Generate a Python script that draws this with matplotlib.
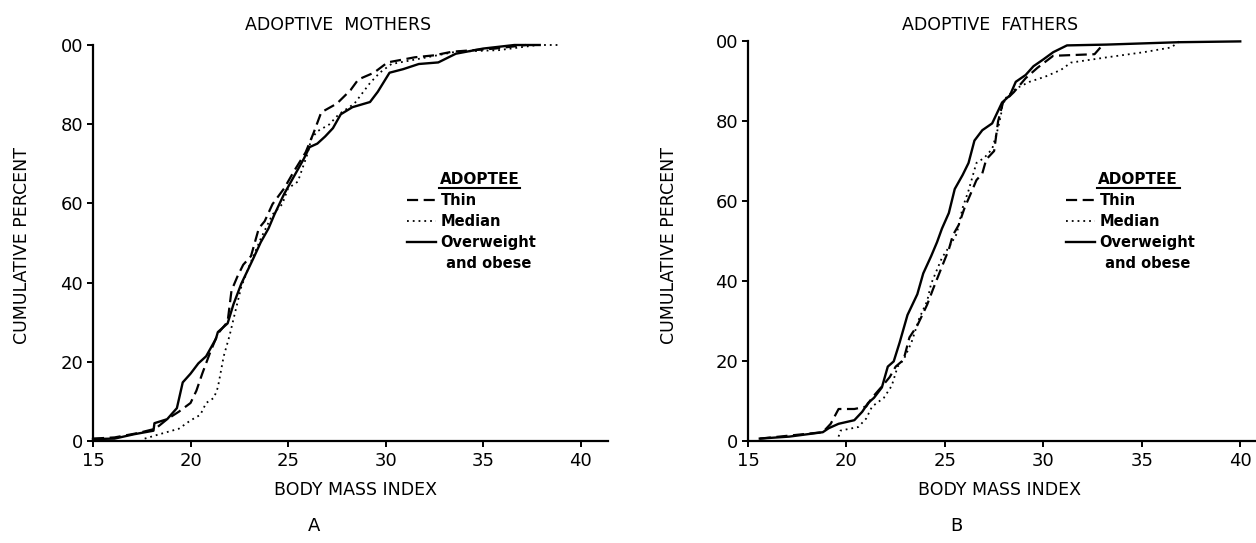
import matplotlib
matplotlib.use("Agg")
import matplotlib.pyplot as plt
from matplotlib.lines import Line2D

# values (BMI, cumulative percent)
mothers_thin_bmi = [15.0, 16.1, 17.3, 18.2, 18.8, 19.4, 20.0, 20.3, 20.6, 21.0, 21.4, 21.9, 22.1,
                    22.4, 22.7, 23.1, 23.5, 23.8, 24.2, 24.8, 25.3, 25.9, 26.3, 26.7, 27.5, 28.2,
                    28.6, 29.4, 30.1, 31.5, 32.5, 33.4, 35.6, 37.2]
mothers_thin_pct = [0.6, 0.9, 2.0, 3.1, 5.5, 7.4, 9.6, 12.7, 17.0, 22.3, 27.1, 30.1, 38.0,
                    41.5, 44.5, 46.7, 53.7, 55.5, 59.8, 63.8, 68.1, 72.9, 77.7, 83.0, 85.2, 88.6,
                    91.3, 93.0, 95.6, 96.9, 97.4, 98.3, 99.1, 100.0]

mothers_median_bmi = [17.65, 18.4, 19.4, 20.0, 20.5, 20.8, 21.2, 21.4, 21.7, 22.0, 22.3, 22.6,
                      23.0, 23.6, 24.2, 24.7, 25.0, 25.5, 25.96, 26.2, 26.5, 27.1, 27.6, 28.4,
                      29.2, 29.7, 30.3, 31.7, 33.6, 35.8, 37.8, 39.0]
mothers_median_pct = [0.6, 1.7, 3.1, 5.2, 6.6, 9.6, 10.9, 13.5, 21.4, 26.6, 32.8, 38.9,
                      44.1, 51.1, 57.2, 59.8, 63.8, 65.5, 72.0, 76.4, 78.2, 79.9, 82.5, 85.2,
                      90.4, 93.0, 95.2, 96.5, 98.3, 98.7, 100.0, 100.0]

mothers_over_bmi = [15.0, 16.1, 17.1, 18.1, 18.15, 18.8, 19.3, 19.6, 20.0, 20.4, 20.8, 21.3, 21.4,
                    21.9, 22.2, 22.6, 23.2, 23.6, 24.0, 24.3, 24.8, 25.3, 25.8, 26.1, 26.5, 26.9,
                    27.3, 27.7, 28.3, 29.2, 29.6, 30.2, 30.9, 31.7, 32.7, 33.6, 35.0, 36.6, 37.9]
mothers_over_pct = [0.5, 0.6, 1.7, 2.6, 4.5, 5.5, 8.3, 14.8, 17.0, 19.6, 21.4, 25.8, 27.5,
                    29.7, 34.5, 39.7, 45.9, 50.2, 53.7, 57.2, 62.4, 66.8, 71.2, 74.2, 75.1, 76.9,
                    79.0, 82.5, 84.3, 85.6, 88.2, 93.0, 93.9, 95.2, 95.6, 97.8, 99.1, 100.0, 100.0]

fathers_thin_bmi = [15.6, 18.8, 19.2, 19.6, 20.4, 21.0, 21.3, 21.9, 22.2, 22.5, 22.9, 23.2, 23.6,
                    23.9, 24.1, 24.4, 24.85, 25.2, 25.4, 25.7, 26.0, 26.3, 26.6, 26.9, 27.1, 27.5,
                    27.7, 27.95, 28.5, 29.1, 29.7, 30.5, 32.6, 32.9]
fathers_thin_pct = [0.6, 2.2, 4.3, 8.0, 8.0, 8.6, 10.8, 14.2, 16.0, 18.6, 20.3, 25.9, 28.9,
                    32.0, 34.1, 38.0, 43.6, 47.9, 51.4, 54.0, 58.3, 61.7, 65.2, 66.9, 70.4, 72.5,
                    79.9, 84.6, 87.2, 90.7, 93.3, 96.3, 96.7, 98.4]

fathers_median_bmi = [19.6, 19.7, 20.6, 21.0, 21.3, 21.9, 22.3, 22.6, 22.9, 23.3, 23.7, 24.1, 24.3,
                      24.85, 25.3, 25.6, 25.9, 26.2, 26.6, 27.0, 27.4, 27.7, 27.85, 27.95, 28.6,
                      29.3, 30.1, 30.9, 31.4, 33.2, 35.1, 36.5, 36.9]
fathers_median_pct = [1.1, 2.6, 3.5, 5.6, 8.6, 10.8, 13.8, 18.6, 20.3, 24.6, 30.7, 35.0, 39.3,
                      45.8, 49.2, 51.8, 58.3, 62.6, 69.5, 70.8, 73.0, 78.2, 81.6, 85.1, 88.1,
                      89.8, 91.1, 92.8, 94.6, 95.9, 97.2, 98.4, 99.9]

fathers_over_bmi = [15.6, 17.1, 18.8, 19.1, 19.6, 20.4, 20.8, 21.1, 21.4, 21.8, 22.1, 22.4, 22.7,
                    23.1, 23.6, 23.9, 24.3, 24.6, 24.85, 25.2, 25.5, 25.9, 26.2, 26.5, 26.9, 27.4,
                    27.9, 28.3, 28.6, 29.1, 29.5, 30.0, 30.5, 31.2, 33.2, 36.9, 40.0]
fathers_over_pct = [0.6, 1.1, 2.2, 3.2, 4.3, 5.2, 7.3, 9.5, 10.8, 13.4, 18.6, 19.9, 24.6,
                    31.5, 36.7, 41.9, 46.2, 49.7, 53.1, 57.0, 63.0, 66.5, 69.5, 75.1, 77.7, 79.4,
                    84.6, 86.4, 89.8, 91.5, 93.7, 95.4, 97.2, 98.9, 99.1, 99.7, 99.9]

x_ticks = [15, 20, 25, 30, 35, 40]
y_ticks = [0, 20, 40, 60, 80, 100]
y_ticklabels = ["0", "20", "40", "60", "80", "00"]
legend_labels = ["Thin", "Median", "Overweight", " and obese"]

W, H = 1256, 543
fig = plt.figure(figsize=(W / 100, H / 100), dpi=100)
plt.rcParams['font.family'] = 'DejaVu Sans'


def px(x, y):
    return x / W, 1 - y / H


def panel(rect, xmax, thin, median, over, title, title_x, letter, letter_x, ylab_x, xlab_x,
          leg_x, leg_head_x, leg_head_w):
    ax = fig.add_axes(rect)
    l1, = ax.plot(thin[0], thin[1], color='black', lw=1.6, ls=(0, (5, 2.5)), clip_on=False)
    l2, = ax.plot(median[0], median[1], color='black', lw=1.3, ls=(0, (1, 2.2)), clip_on=False)
    l3, = ax.plot(over[0], over[1], color='black', lw=1.7, clip_on=False)
    blank = Line2D([], [], lw=0)
    ax.set_xlim(15, xmax)
    ax.set_ylim(0, 100)
    for s in ['top', 'right']:
        ax.spines[s].set_visible(False)
    for s in ['left', 'bottom']:
        ax.spines[s].set_linewidth(1.6)
    ax.set_xticks(x_ticks)
    ax.set_yticks(y_ticks)
    ax.set_yticklabels(y_ticklabels)
    ax.tick_params(axis='both', direction='out', length=4, width=1.4, labelsize=13, pad=3)
    ax.tick_params(axis='x', pad=4)

    fig.text(*px(title_x, 25), title, ha='center', va='center', fontsize=12.5)
    fig.text(*px(xlab_x, 490), "BODY MASS INDEX", ha='center', va='center', fontsize=12.5)
    fig.text(*px(ylab_x, 246), "CUMULATIVE PERCENT", ha='center', va='center',
             rotation=90, fontsize=12.5)
    fig.text(*px(letter_x, 526), letter, ha='center', va='center', fontsize=13)

    # legend block
    fig.text(*px(leg_head_x, 180), "ADOPTEE", ha='left', va='center', fontsize=11,
             fontweight='bold')
    x0, y0 = px(leg_head_x - 1, 188)
    x1, _ = px(leg_head_x + leg_head_w, 188)
    fig.add_artist(Line2D([x0, x1], [y0, y0], color='black', lw=1.5, transform=fig.transFigure))
    ax.legend([l1, l2, l3, blank], legend_labels, loc='upper left',
              bbox_to_anchor=px(leg_x, 193), bbox_transform=fig.transFigure,
              frameon=False, prop={'weight': 'bold', 'size': 10.5},
              handlelength=2.0, handletextpad=0.3, labelspacing=0.42,
              borderpad=0, borderaxespad=0)
    return ax


panel([93 / W, 1 - 441 / H, 515 / W, 396 / H], 41.4,
      (mothers_thin_bmi, mothers_thin_pct),
      (mothers_median_bmi, mothers_median_pct),
      (mothers_over_bmi, mothers_over_pct),
      "ADOPTIVE  MOTHERS", 338, "A", 314, 22, 356, 407, 440, 80)

panel([748 / W, 1 - 441 / H, 508 / W, 400 / H], 40.8,
      (fathers_thin_bmi, fathers_thin_pct),
      (fathers_median_bmi, fathers_median_pct),
      (fathers_over_bmi, fathers_over_pct),
      "ADOPTIVE  FATHERS", 990, "B", 956, 669, 1000, 1066, 1098, 82)

fig.savefig("out.png", dpi=100)
